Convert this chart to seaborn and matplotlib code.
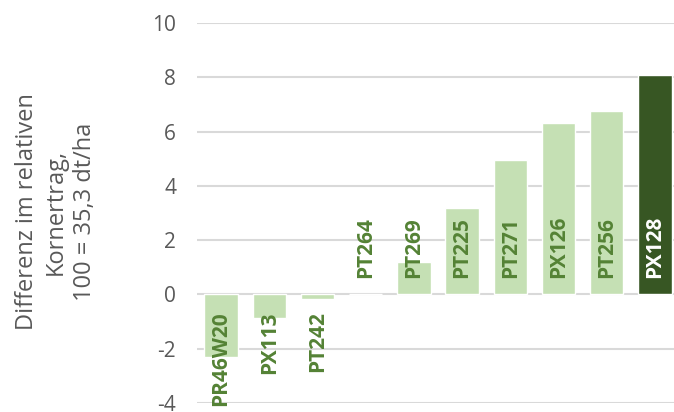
import matplotlib
matplotlib.use("Agg")
import matplotlib.pyplot as plt
import seaborn as sns
import pandas as pd

# Data
sorten = ["PR46W20", "PX113", "PT242", "PT264", "PT269",
          "PT225", "PT271", "PX126", "PT256", "PX128"]
differenz = [-2.3, -0.85, -0.15, 0.0, 1.2, 3.2, 4.95, 6.3, 6.75, 8.1]
hervorgehoben = "PX128"

hell = "#C5E0B4"
dunkel = "#375623"
text_gruen = "#548235"
grau = "#595959"

df = pd.DataFrame({"Sorte": sorten, "Differenz": differenz})
farben = {s: (dunkel if s == hervorgehoben else hell) for s in sorten}

sns.set_style("white")
plt.rcParams["font.family"] = ["Open Sans", "DejaVu Sans"]
plt.rcParams["axes.unicode_minus"] = False

fig = plt.figure(figsize=(6.74, 4.12), dpi=100)
ax = fig.add_axes([197 / 674, 1 - 403 / 412, 482 / 674, 380 / 412])

sns.barplot(data=df, x="Sorte", y="Differenz", hue="Sorte", palette=farben,
            width=0.69, saturation=1, legend=False, ax=ax, zorder=2)

ax.set_ylim(-4, 10)
ax.set_yticks(range(-4, 11, 2))
ax.yaxis.grid(True, color="#D9D9D9", linewidth=1.5, zorder=0)
ax.set_axisbelow(True)
for s in ax.spines.values():
    s.set_visible(False)
ax.set_xticks([])
ax.set_xlabel("")
ax.set_ylabel("")
ax.tick_params(axis="y", length=0, labelsize=15, labelcolor=grau, pad=15)

# y-axis title, three centred lines
fig.text(56 / 674, 1 - 212 / 412,
         "Differenz im relativen\nKornertrag,\n100 = 35,3 dt/ha",
         rotation=90, ha="center", va="center", multialignment="center",
         fontsize=17, color=grau, linespacing=1.3)

# Labels inside the base of each bar
for i, (s, v) in enumerate(zip(sorten, differenz)):
    farbe = "white" if s == hervorgehoben else text_gruen
    if v >= 0:
        ax.text(i, 0.6, s, rotation=90, ha="center", va="bottom",
                fontsize=15, fontweight="bold", color=farbe, zorder=3,
                clip_on=False)
    else:
        ax.text(i, -0.62, s, rotation=90, ha="center", va="top",
                fontsize=15, fontweight="bold", color=farbe, zorder=3,
                clip_on=False)

fig.savefig("out.png", dpi=100)
